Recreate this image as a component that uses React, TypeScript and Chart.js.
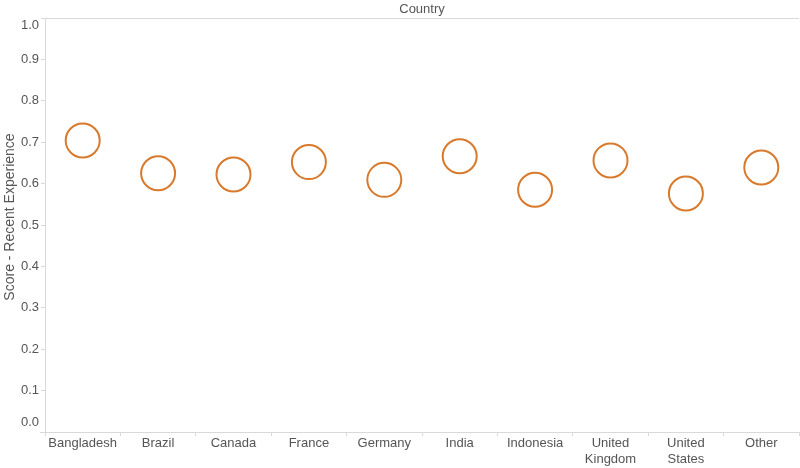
import { useEffect, useRef } from 'react'
import { Chart, registerables } from 'chart.js'
Chart.register(...registerables)

const countries = ['Bangladesh', 'Brazil', 'Canada', 'France', 'Germany', 'India', 'Indonesia', 'United Kingdom', 'United States', 'Other']
const scores = [0.704, 0.625, 0.622, 0.652, 0.609, 0.666, 0.585, 0.656, 0.576, 0.639]
const yTicks = [0, 0.1, 0.2, 0.3, 0.4, 0.5, 0.6, 0.7, 0.8, 0.9, 1.0]
const xTitle = 'Country'
const yTitle = 'Score - Recent Experience'

const FONT = '"Liberation Sans", Arial, sans-serif'
const TEXT = '#555555'
const LINE = '#d9d9d9'

// header line, column title, y labels (kept inside the pane like tableau does) and y title
const frame = {
  id: 'frame',
  afterDraw(chart: any) {
    const { ctx, chartArea: a, scales } = chart
    ctx.save()
    ctx.strokeStyle = LINE
    ctx.lineWidth = 1
    const ty = Math.round(a.top) + 0.5
    ctx.beginPath(); ctx.moveTo(41, ty); ctx.lineTo(a.right, ty); ctx.stroke()
    const by = Math.round(a.bottom) + 0.5
    ctx.beginPath(); ctx.moveTo(40, by); ctx.lineTo(a.left, by); ctx.stroke()

    ctx.fillStyle = TEXT
    ctx.font = `13px ${FONT}`
    ctx.textAlign = 'center'
    ctx.textBaseline = 'middle'
    ctx.fillText(xTitle, (a.left + a.right) / 2, 9)

    ctx.textAlign = 'right'
    yTicks.forEach(v => {
      let y = scales.y.getPixelForValue(v)
      y = Math.min(Math.max(y, a.top + 7.5), a.bottom - 9.5)
      ctx.fillText(v.toFixed(1), 39, y)
    })

    ctx.font = `14px ${FONT}`
    ctx.translate(10, (a.top + a.bottom) / 2 - 8)
    ctx.rotate(-Math.PI / 2)
    ctx.textAlign = 'center'
    ctx.fillText(yTitle, 0, 0)
    ctx.restore()
  },
}

export default function App() {
  const ref = useRef<HTMLCanvasElement>(null)
  const inst = useRef<Chart | null>(null)

  useEffect(() => {
    document.body.style.margin = '0'
    document.body.style.overflow = 'hidden'
    if (!ref.current) return
    inst.current?.destroy()
    inst.current = new Chart(ref.current, {
      type: 'line',
      data: {
        labels: countries.map(c => (c.startsWith('United') ? c.split(' ') : c)),
        datasets: [{
          data: scores,
          showLine: false,
          pointRadius: 17,
          pointHoverRadius: 17,
          pointBorderWidth: 2,
          pointBorderColor: '#d8792c',
          pointBackgroundColor: 'rgba(0,0,0,0)',
          clip: false,
        }],
      },
      options: {
        responsive: false, animation: false,
        layout: { autoPadding: false, padding: { top: 18, right: 1, left: 0, bottom: 0 } },
        plugins: { legend: { display: false }, tooltip: { enabled: false } },
        events: [],
        scales: {
          x: {
            type: 'category', offset: true,
            grid: { offset: true, drawOnChartArea: false, tickLength: 4, color: LINE },
            border: { color: LINE },
            ticks: { color: TEXT, font: { family: FONT, size: 13 }, padding: 0, maxRotation: 0, autoSkip: false },
            afterFit: (s: any) => { s.height = 36; s.paddingLeft = 0; s.paddingRight = 0 },
          },
          y: {
            min: 0, max: 1,
            ticks: { stepSize: 0.1, display: false },
            grid: { drawOnChartArea: false, tickLength: 4, color: LINE },
            border: { color: LINE },
            afterFit: (s: any) => { s.width = 45; s.paddingTop = 0; s.paddingBottom = 0 },
          },
        },
      },
      plugins: [frame],
    })
    return () => { inst.current?.destroy() }
  }, [])

  return (
    <div style={{ position: 'absolute', left: 0, top: 0, width: 800, height: 468, background: '#fff', overflow: 'hidden' }}>
      <canvas ref={ref} width={800} height={468} style={{ display: 'block' }} />
    </div>
  )
}
